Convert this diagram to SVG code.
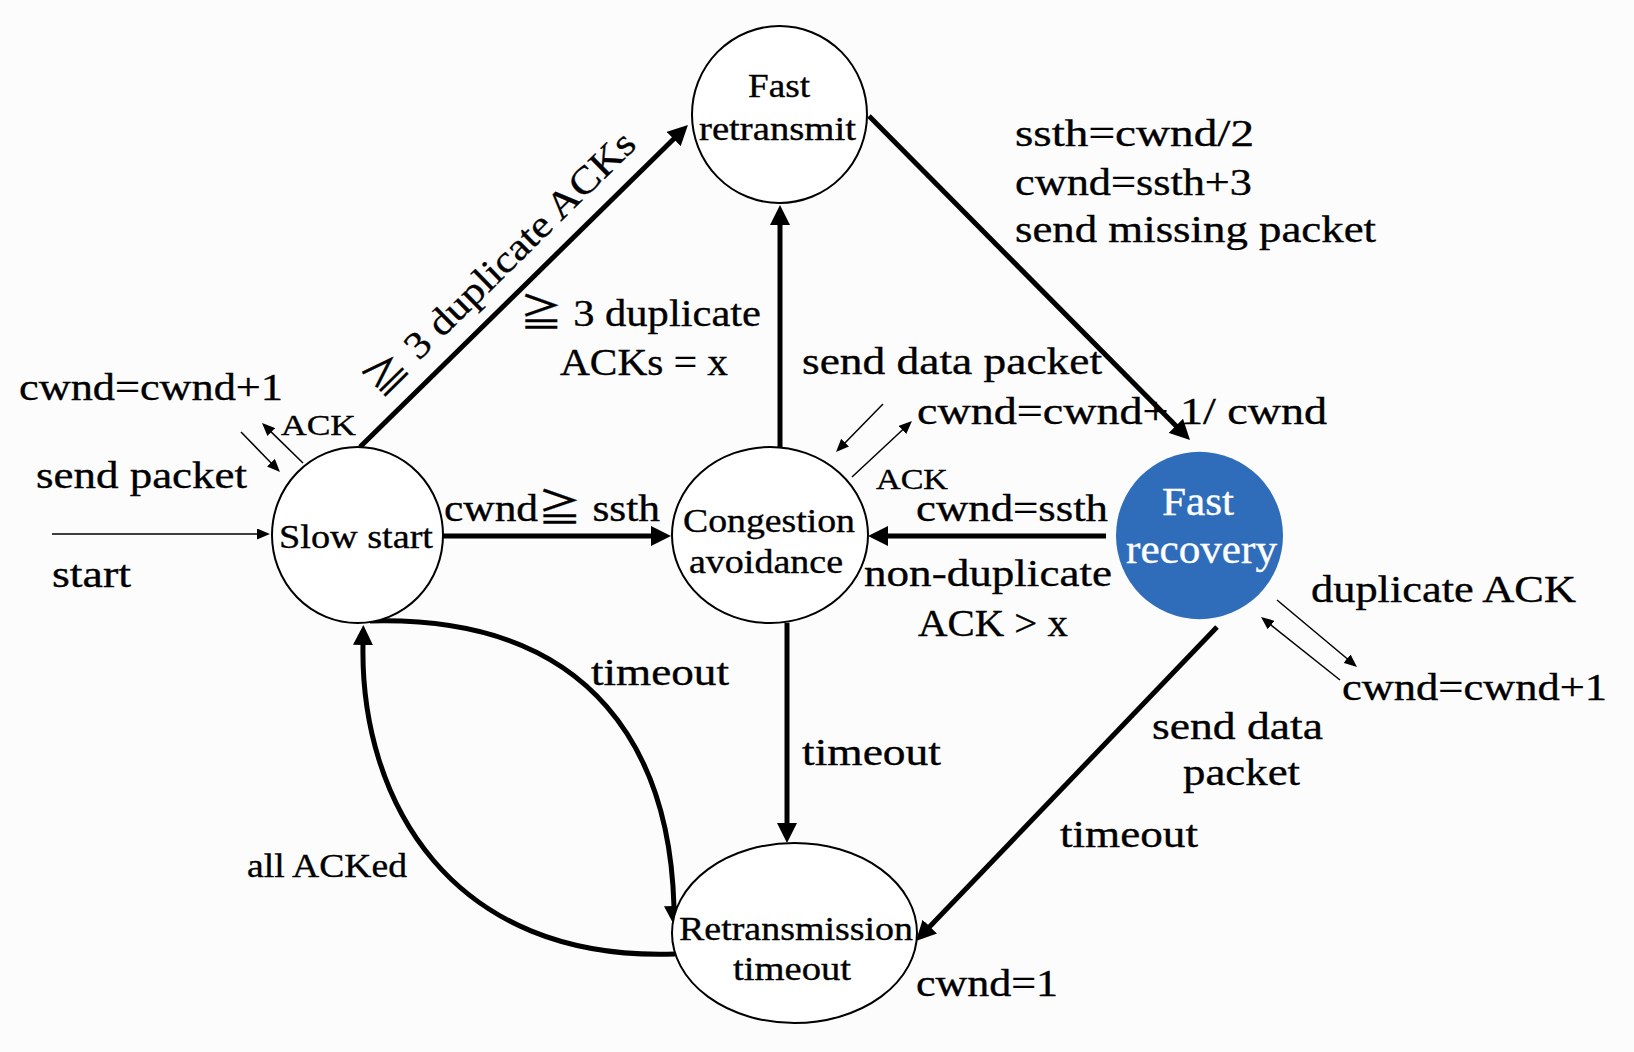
<svg xmlns="http://www.w3.org/2000/svg" width="1634" height="1052" viewBox="0 0 1634 1052">
<style>
.bg{fill:#fcfcfc}
.node ellipse{fill:#fff;stroke:#000;stroke-width:2}
.node.blue ellipse{fill:#2f6dba;stroke:none}
text{font-family:"Liberation Serif","Noto Sans CJK JP",serif;fill:#000;stroke:#000;stroke-width:0.35}
.big{font-size:38px}
.nt{font-size:33px}
.sm{font-size:30px}
.wt{font-size:39px;fill:#fff;stroke:#fff}
.thick{stroke:#000;stroke-width:5;fill:none;marker-end:url(#ah)}
.thin{stroke:#000;stroke-width:1.5;fill:none;marker-end:url(#as)}
</style>
<defs>
<marker id="ah" markerUnits="userSpaceOnUse" viewBox="0 0 20 20" markerWidth="20" markerHeight="20" refX="1" refY="10" orient="auto"><path d="M0,0 L20,10 L0,20 z" fill="#000"/></marker>
<marker id="as" markerUnits="userSpaceOnUse" viewBox="0 0 13 11" markerWidth="13" markerHeight="11" refX="1" refY="5.5" orient="auto"><path d="M0,0 L13,5.5 L0,11 z" fill="#000"/></marker>
</defs>
<rect class="bg" x="0" y="0" width="1634" height="1052"/>

<g id="connectors">
<line class="thin" x1="52" y1="534" x2="258" y2="534"/>
<line class="thin" x1="241" y1="432" x2="271.6" y2="463.4"/>
<line class="thin" x1="303" y1="463" x2="270.6" y2="431.4"/>
<line class="thick" x1="360" y1="447" x2="674.4" y2="138.3"/>
<line class="thick" x1="780" y1="447" x2="780" y2="224"/>
<line class="thick" x1="869" y1="116" x2="1176.6" y2="426.5"/>
<line class="thick" x1="443" y1="536" x2="652" y2="536"/>
<line class="thick" x1="1106" y1="536" x2="887" y2="536"/>
<line class="thick" x1="787" y1="623" x2="787" y2="824"/>
<line class="thick" x1="1217" y1="627" x2="929.1" y2="927.3"/>
<line class="thin" x1="883" y1="404" x2="844.4" y2="443.4"/>
<line class="thin" x1="852" y1="477" x2="903.2" y2="429.2"/>
<line class="thin" x1="1277" y1="600" x2="1347.8" y2="659.3"/>
<line class="thin" x1="1340" y1="680" x2="1270.4" y2="624.5"/>
<path class="thick" d="M370,621 C600,615 670,760 674,907"/>
<path class="thick" d="M675,954 C450,962 360,800 363,644"/>
</g>

<g id="labels">
<text class="big" x="19" y="400" textLength="264" lengthAdjust="spacingAndGlyphs">cwnd=cwnd+1</text>
<text class="big" x="36" y="488" textLength="211" lengthAdjust="spacingAndGlyphs">send packet</text>
<text class="big" x="52" y="587" textLength="79" lengthAdjust="spacingAndGlyphs">start</text>
<text class="sm" x="281" y="435" textLength="75" lengthAdjust="spacingAndGlyphs">ACK</text>
<text class="big" transform="translate(380.3,399.1) rotate(-44.47)" x="0" y="0" textLength="361" lengthAdjust="spacingAndGlyphs">≧ 3 duplicate ACKs</text>
<text class="big" x="520" y="326" textLength="241" lengthAdjust="spacingAndGlyphs">≧ 3 duplicate</text>
<text class="big" x="560" y="375" textLength="168" lengthAdjust="spacingAndGlyphs">ACKs = x</text>
<text class="big" x="444" y="521" textLength="216" lengthAdjust="spacingAndGlyphs">cwnd≧ ssth</text>
<text class="big" x="802" y="374" textLength="300" lengthAdjust="spacingAndGlyphs">send data packet</text>
<text class="big" x="917" y="424" textLength="410" lengthAdjust="spacingAndGlyphs">cwnd=cwnd+ 1/ cwnd</text>
<text class="sm" x="876" y="489" textLength="72" lengthAdjust="spacingAndGlyphs">ACK</text>
<text class="big" x="1015" y="146" textLength="239" lengthAdjust="spacingAndGlyphs">ssth=cwnd/2</text>
<text class="big" x="1015" y="195" textLength="237" lengthAdjust="spacingAndGlyphs">cwnd=ssth+3</text>
<text class="big" x="1015" y="242" textLength="361" lengthAdjust="spacingAndGlyphs">send missing packet</text>
<text class="big" x="916" y="521" textLength="192" lengthAdjust="spacingAndGlyphs">cwnd=ssth</text>
<text class="big" x="864" y="586" textLength="248" lengthAdjust="spacingAndGlyphs">non-duplicate</text>
<text class="big" x="918" y="636" textLength="150" lengthAdjust="spacingAndGlyphs">ACK &gt; x</text>
<text class="big" x="1311" y="602" textLength="265" lengthAdjust="spacingAndGlyphs">duplicate ACK</text>
<text class="big" x="1342" y="700" textLength="265" lengthAdjust="spacingAndGlyphs">cwnd=cwnd+1</text>
<text class="big" x="1152" y="739" textLength="171" lengthAdjust="spacingAndGlyphs">send data</text>
<text class="big" x="1183" y="785" textLength="117" lengthAdjust="spacingAndGlyphs">packet</text>
<text class="big" x="1060" y="847" textLength="138" lengthAdjust="spacingAndGlyphs">timeout</text>
<text class="big" x="916" y="996" textLength="142" lengthAdjust="spacingAndGlyphs">cwnd=1</text>
<text class="big" x="802" y="765" textLength="139" lengthAdjust="spacingAndGlyphs">timeout</text>
<text class="big" x="591" y="685" textLength="138" lengthAdjust="spacingAndGlyphs">timeout</text>
<text class="nt" x="247" y="877" textLength="160" lengthAdjust="spacingAndGlyphs">all ACKed</text>
</g>

<g id="fast-retransmit" class="node">
<ellipse cx="779.5" cy="114.5" rx="87.5" ry="88.5"/>
<text class="nt" x="748" y="97" textLength="62" lengthAdjust="spacingAndGlyphs">Fast</text>
<text class="nt" x="699" y="140" textLength="157" lengthAdjust="spacingAndGlyphs">retransmit</text>
</g>
<g id="slow-start" class="node">
<ellipse cx="357.5" cy="535" rx="85.5" ry="88"/>
<text class="nt" x="279" y="548" textLength="154" lengthAdjust="spacingAndGlyphs">Slow start</text>
</g>
<g id="congestion-avoidance" class="node">
<ellipse cx="770" cy="535" rx="98" ry="88"/>
<text class="nt" x="683" y="532" textLength="172" lengthAdjust="spacingAndGlyphs">Congestion</text>
<text class="nt" x="689" y="573" textLength="154" lengthAdjust="spacingAndGlyphs">avoidance</text>
</g>
<g id="fast-recovery" class="node blue">
<ellipse cx="1199.5" cy="535.5" rx="83.5" ry="83.7"/>
<text class="wt" x="1162" y="515" textLength="72" lengthAdjust="spacingAndGlyphs">Fast</text>
<text class="wt" x="1126" y="563" textLength="151" lengthAdjust="spacingAndGlyphs">recovery</text>
</g>
<g id="retransmission-timeout" class="node">
<ellipse cx="794.5" cy="933" rx="122.5" ry="90"/>
<text class="nt" x="679" y="940" textLength="234" lengthAdjust="spacingAndGlyphs">Retransmission</text>
<text class="nt" x="733" y="980" textLength="118" lengthAdjust="spacingAndGlyphs">timeout</text>
</g>
</svg>
